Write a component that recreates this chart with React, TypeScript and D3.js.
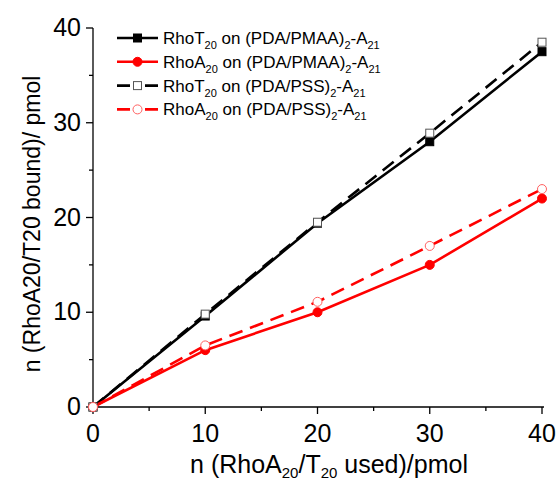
import React from "react";
import * as d3 from "d3";

const xValues = [0, 10, 20, 30, 40];
const rhoT_PMAA = [0, 9.6, 19.4, 28, 37.5];
const rhoA_PMAA = [0, 6, 10, 15, 22];
const rhoT_PSS = [0, 9.8, 19.5, 28.9, 38.5];
const rhoA_PSS = [0, 6.5, 11.1, 17, 23];
const xTicks = [0, 10, 20, 30, 40];
const yTicks = [0, 10, 20, 30, 40];
const minorTicks = [5, 15, 25, 35];

const W = 557, H = 483;
const x = d3.scaleLinear().domain([0, 40]).range([93, 542]);
const y = d3.scaleLinear().domain([0, 40]).range([407, 28]);
const FONT = "Liberation Sans, Arial, sans-serif";

type S = { values: number[]; color: string; dashed: boolean; marker: "sq" | "circ"; filled: boolean; label: [string, string, string, string, string, string] };
const series: S[] = [
  { values: rhoT_PMAA, color: "#000", dashed: false, marker: "sq", filled: true, label: ["RhoT", "20", " on (PDA/PMAA)", "2", "-A", "21"] },
  { values: rhoA_PMAA, color: "#ff0000", dashed: false, marker: "circ", filled: true, label: ["RhoA", "20", " on (PDA/PMAA)", "2", "-A", "21"] },
  { values: rhoT_PSS, color: "#000", dashed: true, marker: "sq", filled: false, label: ["RhoT", "20", " on (PDA/PSS)", "2", "-A", "21"] },
  { values: rhoA_PSS, color: "#ff0000", dashed: true, marker: "circ", filled: false, label: ["RhoA", "20", " on (PDA/PSS)", "2", "-A", "21"] },
];

function Marker({ s, cx, cy }: { s: S; cx: number; cy: number }) {
  const fill = s.filled ? s.color : "#fff";
  const stroke = s.filled ? s.color : s.color === "#000" ? "#555" : "#ff6060";
  if (s.marker === "sq") return <rect x={cx - 4} y={cy - 4} width={8} height={8} fill={fill} stroke={stroke} strokeWidth={1} />;
  return <circle cx={cx} cy={cy} r={4.5} fill={fill} stroke={stroke} strokeWidth={1} />;
}

export default function App() {
  const line = d3.line<number>().x((_, i) => x(xValues[i])).y((v) => y(v));
  return (
    <svg width={W} height={H} style={{ position: "absolute", left: 0, top: 0, background: "#fff" }} fontFamily={FONT}>
      {/* axes */}
      <line x1={x(0)} x2={x(40) + 2} y1={y(0)} y2={y(0)} stroke="#000" strokeWidth={1.3} />
      <line x1={x(0)} x2={x(0)} y1={y(0)} y2={y(40)} stroke="#000" strokeWidth={1.3} />
      {xTicks.map((t) => (
        <g key={"xt" + t}>
          <line x1={x(t)} x2={x(t)} y1={y(0)} y2={y(0) + 7} stroke="#000" strokeWidth={1.3} />
          <text x={x(t)} y={442} fontSize={25} textAnchor="middle">{t}</text>
        </g>
      ))}
      {minorTicks.map((t) => (
        <line key={"xm" + t} x1={x(t)} x2={x(t)} y1={y(0)} y2={y(0) + 4} stroke="#000" strokeWidth={1.3} />
      ))}
      {yTicks.map((t) => (
        <g key={"yt" + t}>
          <line x1={x(0) - 7} x2={x(0)} y1={y(t)} y2={y(t)} stroke="#000" strokeWidth={1.3} />
          <text x={81} y={y(t) + 8} fontSize={25} textAnchor="end">{t}</text>
        </g>
      ))}
      {minorTicks.map((t) => (
        <line key={"ym" + t} x1={x(0) - 4} x2={x(0)} y1={y(t)} y2={y(t)} stroke="#000" strokeWidth={1.3} />
      ))}
      {/* axis titles */}
      <text x={329} y={473} fontSize={25} textAnchor="middle">
        n (RhoA<tspan fontSize={15} dy={5}>20</tspan><tspan dy={-5}>/T</tspan><tspan fontSize={15} dy={5}>20</tspan><tspan dy={-5}> used)/pmol</tspan>
      </text>
      <text transform={`translate(40,224) rotate(-90)`} fontSize={23} textAnchor="middle">n (RhoA20/T20 bound)/ pmol</text>
      {/* lines */}
      {series.map((s, i) => (
        <path key={"l" + i} d={line(s.values) || ""} fill="none" stroke={s.color} strokeWidth={2.6} strokeDasharray={s.dashed ? "14,8" : undefined} />
      ))}
      {series.map((s, i) => (
        <g key={"m" + i}>{s.values.map((v, j) => <Marker key={j} s={s} cx={x(xValues[j])} cy={y(v)} />)}</g>
      ))}
      {/* legend */}
      {series.map((s, i) => {
        const ly = 38 + i * 23.8;
        return (
          <g key={"lg" + i}>
            <line x1={117} x2={158} y1={ly} y2={ly} stroke={s.color} strokeWidth={2.6} strokeDasharray={s.dashed ? "13,15" : undefined} />
            <Marker s={s} cx={137.5} cy={ly} />
            <text x={163} y={ly + 6} fontSize={17}>
              {s.label[0]}<tspan fontSize={11} dy={5}>{s.label[1]}</tspan><tspan dy={-5}>{s.label[2]}</tspan><tspan fontSize={11} dy={5}>{s.label[3]}</tspan><tspan dy={-5}>{s.label[4]}</tspan><tspan fontSize={11} dy={5}>{s.label[5]}</tspan>
            </text>
          </g>
        );
      })}
    </svg>
  );
}
